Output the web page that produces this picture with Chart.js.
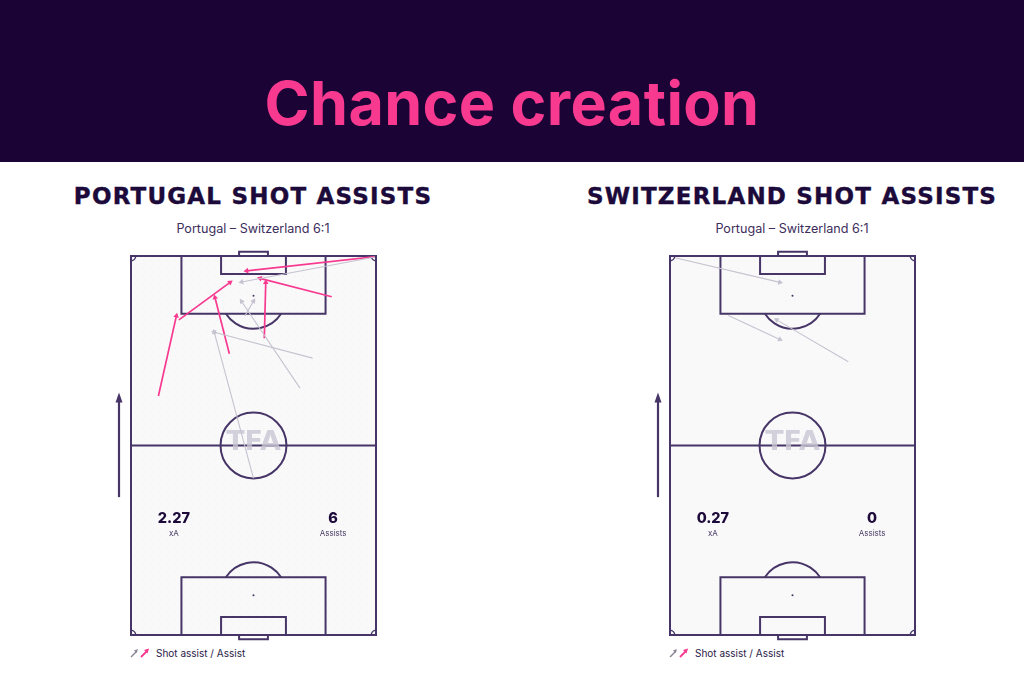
<!DOCTYPE html>
<html>
<head>
<meta charset="utf-8">
<script src="https://cdn.jsdelivr.net/npm/chart.js@4/dist/chart.umd.min.js"></script>
<style>
  body { margin: 0; width: 1024px; height: 683px; background: #fff; position: relative; overflow: hidden; font-family: Inter, "Noto Sans", sans-serif; }
  #header { position: absolute; left: 0; top: 0; width: 1024px; height: 162px; background: #1b0336; }
  #header h1 { margin: 0; position: absolute; left: 0; width: 1024px; top: 66px; text-align: center; color: #f7398f; font: 700 61px Inter, sans-serif; letter-spacing: 0.4px; }
  .head { position: absolute; width: 540px; text-align: center; color: #1c0a3a; font: bold 23px "DejaVu Sans", sans-serif; letter-spacing: 1.2px; top: 183px; -webkit-text-stroke: 0.4px #1c0a3a; }
  .sub { position: absolute; width: 540px; text-align: center; color: #3d2e5c; font: 12.6px Inter, sans-serif; top: 221px; }
  .wrap { position: absolute; top: 240px; width: 290px; height: 405px; }
  .legend { position: absolute; top: 647px; font: 10px Inter, sans-serif; color: #2a1a48; display: flex; align-items: center; }
  .legend svg { margin-right: 5px; }
</style>
</head>
<body>
<div id="header"><h1>Chance creation</h1></div>

<div class="head" style="left:-17px">PORTUGAL SHOT ASSISTS</div>
<div class="sub" style="left:-17px">Portugal – Switzerland 6:1</div>
<div class="head" style="left:522px">SWITZERLAND SHOT ASSISTS</div>
<div class="sub" style="left:522px">Portugal – Switzerland 6:1</div>

<div class="wrap" style="left:101px"><canvas id="pitchPortugal" width="290" height="405"></canvas></div>
<div class="wrap" style="left:640px"><canvas id="pitchSwitzerland" width="290" height="405"></canvas></div>

<div class="legend" style="left:129px">
  <svg width="22" height="12" viewBox="0 0 22 12">
    <line x1="2" y1="10" x2="8" y2="4" stroke="#8a8496" stroke-width="1.5"/>
    <polygon points="9,2 5,3.5 7.5,6" fill="#8a8496"/>
    <line x1="12" y1="10" x2="18" y2="4" stroke="#f7398f" stroke-width="1.8"/>
    <polygon points="20,1.5 15,3 18.5,6.5" fill="#f7398f"/>
  </svg>Shot assist / Assist
</div>
<div class="legend" style="left:668px">
  <svg width="22" height="12" viewBox="0 0 22 12">
    <line x1="2" y1="10" x2="8" y2="4" stroke="#8a8496" stroke-width="1.5"/>
    <polygon points="9,2 5,3.5 7.5,6" fill="#8a8496"/>
    <line x1="12" y1="10" x2="18" y2="4" stroke="#f7398f" stroke-width="1.8"/>
    <polygon points="20,1.5 15,3 18.5,6.5" fill="#f7398f"/>
  </svg>Shot assist / Assist
</div>

<script>
// Pitch in metres: x 0..68 across, y 0..105 from the attacked goal line (top)
// each pass = [startX, startY, endX, endY]
const portugalAssists = [
  [67.7, 0.2, 32.1, 4.1],
  [55.7, 11.3, 35.8, 6.2],
  [37.0, 22.8, 37.4, 7.3],
  [7.6, 38.8, 12.6, 16.6],
  [13.3, 17.7, 27.5, 7.3],
  [27.3, 27.1, 23.3, 11.5]
];
const portugalShotAssists = [
  [67.7, 0.3, 30.7, 7.2],
  [46.9, 36.6, 30.7, 12.6],
  [31.6, 16.6, 34.0, 12.5],
  [50.4, 28.3, 23.1, 21.1],
  [34.0, 61.6, 23.1, 21.1]
];
const switzerlandAssists = [];
const switzerlandShotAssists = [
  [1.4, 0.5, 30.5, 7.3],
  [16.2, 16.5, 30.5, 23.1],
  [49.5, 29.3, 29.6, 17.7]
];

const xAValues = ['2.27', '0.27'];
const assistCounts = ['6', '0'];

const LINE = '#463566';
const PINK = '#f7398f';
const GREY = '#c6c2cf';

// Pfeil als Linie mit Dreieck am Ende
function arrowDataset(p, color, width) {
  const ang = Math.atan2(p[2] - p[0], -(p[3] - p[1])) * 180 / Math.PI;
  return {
    data: [{ x: p[0], y: p[1] }, { x: p[2], y: p[3] }],
    showLine: true,
    borderColor: color,
    borderWidth: width,
    backgroundColor: color,
    pointBackgroundColor: color,
    pointBorderColor: color,
    pointBorderWidth: 0,
    pointStyle: 'triangle',
    pointRadius: [0, 3.2],
    pointRotation: [0, ang]
  };
}

const pitchPlugin = {
  id: 'pitch',
  beforeDatasetsDraw(chart) {
    const { ctx, scales: { x, y } } = chart;
    const X = v => x.getPixelForValue(v), Y = v => y.getPixelForValue(v);
    const r = (X(9.15) - X(0));
    ctx.save();
    // Rasen
    ctx.fillStyle = '#f9f9fa';
    ctx.fillRect(X(0), Y(0), X(68) - X(0), Y(105) - Y(0));
    ctx.fillStyle = '#e9e8ee';
    for (let py = Y(0) + 4; py < Y(105); py += 8) {
      for (let px = X(0) + 4; px < X(68); px += 8) ctx.fillRect(px, py, 0.8, 0.8);
    }
    ctx.strokeStyle = LINE;
    ctx.lineWidth = 2;
    ctx.strokeRect(X(0), Y(0), X(68) - X(0), Y(105) - Y(0));
    ctx.beginPath(); ctx.moveTo(X(0), Y(52.5)); ctx.lineTo(X(68), Y(52.5)); ctx.stroke();
    ctx.beginPath(); ctx.arc(X(34), Y(52.5), r, 0, Math.PI * 2); ctx.stroke();

    const a0 = Math.asin(5 / 9.15);
    [[0, 1], [105, -1]].forEach(([g, d]) => {
      const box = (x1, x2, depth) => {
        ctx.beginPath();
        ctx.moveTo(X(x1), Y(g)); ctx.lineTo(X(x1), Y(g + d * depth));
        ctx.lineTo(X(x2), Y(g + d * depth)); ctx.lineTo(X(x2), Y(g));
        ctx.stroke();
      };
      box(14, 54, 16);
      box(25, 43, 5);
      box(30, 38, -1.2);
      ctx.fillStyle = LINE;
      ctx.beginPath(); ctx.arc(X(34), Y(g + d * 11), 1, 0, Math.PI * 2); ctx.fill();
      ctx.beginPath();
      if (d > 0) ctx.arc(X(34), Y(g + 11), r, a0, Math.PI - a0);
      else ctx.arc(X(34), Y(g - 11), r, Math.PI + a0, 2 * Math.PI - a0);
      ctx.stroke();
    });
    // Eckfahnen
    const cr = X(1.3) - X(0);
    ctx.lineWidth = 1.5;
    [[0, 0, 0], [68, 0, 0.5], [68, 105, 1], [0, 105, 1.5]].forEach(([cx, cy, s]) => {
      ctx.beginPath(); ctx.arc(X(cx), Y(cy), cr, s * Math.PI, (s + 0.5) * Math.PI); ctx.stroke();
    });
    // Spielrichtung
    const ax = X(0) - 12;
    ctx.lineWidth = 2.2;
    ctx.beginPath(); ctx.moveTo(ax, Y(66.8)); ctx.lineTo(ax, Y(39.5)); ctx.stroke();
    ctx.fillStyle = LINE;
    ctx.beginPath(); ctx.moveTo(ax, Y(37.8)); ctx.lineTo(ax - 3.5, Y(40.6)); ctx.lineTo(ax + 3.5, Y(40.6)); ctx.closePath(); ctx.fill();
    // Wasserzeichen
    ctx.fillStyle = 'rgba(200,198,210,0.8)';
    ctx.font = 'bold 27px "DejaVu Sans"';
    ctx.textAlign = 'center';
    ctx.textBaseline = 'middle';
    ctx.fillText('TFA', X(34), Y(51.8));
    ctx.restore();
  },
  afterDraw(chart) {
    const { ctx, scales: { x, y } } = chart;
    const o = chart.options.plugins.pitch;
    ctx.save();
    ctx.textAlign = 'center';
    ctx.textBaseline = 'middle';
    ctx.fillStyle = '#1c0a3a';
    ctx.font = '800 14.5px Inter';
    ctx.fillText(o.xa, x.getPixelForValue(11.9), y.getPixelForValue(72.9));
    ctx.fillText(o.count, x.getPixelForValue(56.1), y.getPixelForValue(72.9));
    ctx.fillStyle = '#4a3d66';
    ctx.font = '8px Inter';
    ctx.fillText('xA', x.getPixelForValue(11.9), y.getPixelForValue(76.8));
    ctx.fillText('Assists', x.getPixelForValue(56.1), y.getPixelForValue(76.8));
    ctx.restore();
  }
};

function makePitch(id, assists, shotAssists, xa, count) {
  const datasets = [
    ...shotAssists.map(p => arrowDataset(p, GREY, 1.1)),
    ...assists.map(p => arrowDataset(p, PINK, 1.7))
  ];
  return new Chart(document.getElementById(id).getContext('2d'), {
    type: 'scatter',
    data: { datasets },
    options: {
      responsive: false,
      animation: false,
      events: [],
      layout: { padding: { left: 30, right: 15, top: 16, bottom: 10 } },
      plugins: { legend: { display: false }, tooltip: { enabled: false }, pitch: { xa, count } },
      scales: {
        x: { type: 'linear', min: 0, max: 68, display: false },
        y: { type: 'linear', min: 0, max: 105, reverse: true, display: false }
      }
    },
    plugins: [pitchPlugin]
  });
}

makePitch('pitchPortugal', portugalAssists, portugalShotAssists, xAValues[0], assistCounts[0]);
makePitch('pitchSwitzerland', switzerlandAssists, switzerlandShotAssists, xAValues[1], assistCounts[1]);
</script>
</body>
</html>
